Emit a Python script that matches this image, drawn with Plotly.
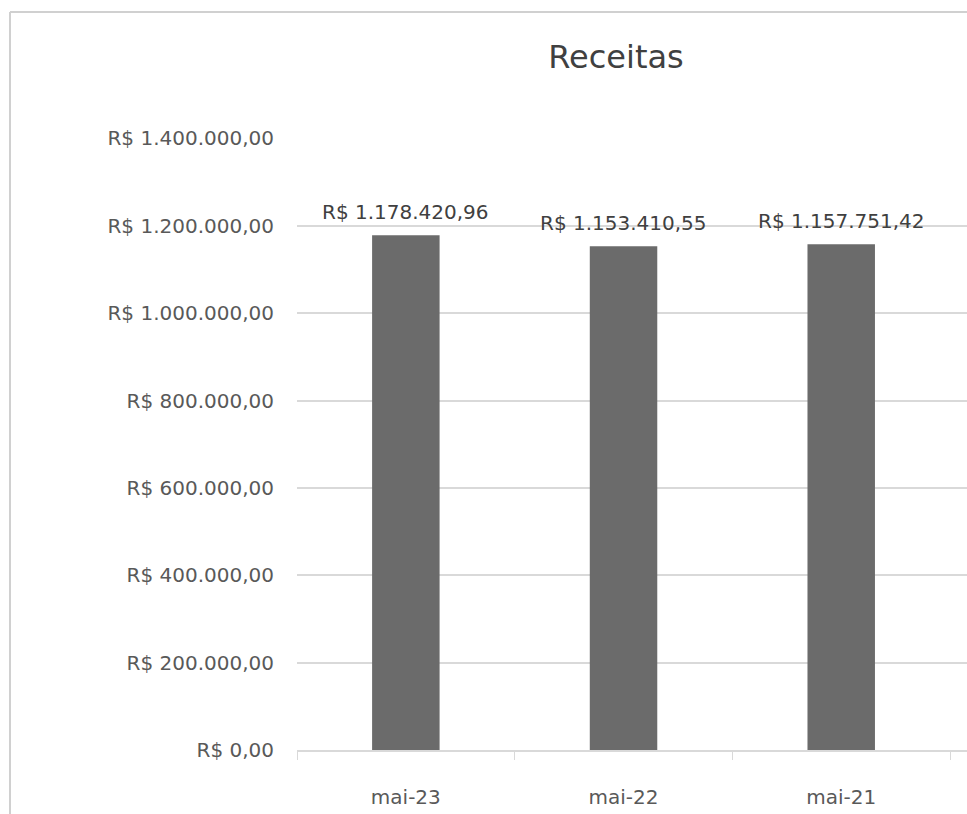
import plotly.graph_objects as go

categories = ["mai-23", "mai-22", "mai-21"]
receitas = [1178420.96, 1153410.55, 1157751.42]
y_ticks = [0, 200000, 400000, 600000, 800000, 1000000, 1200000, 1400000]


def brl(v):
    s = f"{v:,.2f}"
    s = s.replace(",", "X").replace(".", ",").replace("X", ".")
    return "R$ " + s


FONT = "DejaVu Sans"

fig = go.Figure()
fig.add_trace(go.Bar(
    x=categories,
    y=receitas,
    marker=dict(color="#6b6b6b", line=dict(width=0)),
    width=0.31,
    hoverinfo="x+y",
))

# data labels above bars
for c, v in zip(categories, receitas):
    fig.add_annotation(x=c, y=v, xref="x", yref="y", text=brl(v), showarrow=False,
                       yanchor="bottom", yshift=9,
                       font=dict(family=FONT, size=20, color="#404040"))

W, H = 967, 814
L, R, T, B = 297, 0, 138, 64
pw = W - L - R
ph = H - T - B

fig.update_layout(
    width=W, height=H,
    margin=dict(l=L, r=R, t=T, b=B, pad=0),
    paper_bgcolor="white",
    plot_bgcolor="white",
    showlegend=False,
    title=dict(text="Receitas", x=616 / W, xanchor="center", y=1 - 57 / H, yanchor="middle",
               font=dict(family=FONT, size=32, color="#404040")),
    xaxis=dict(
        type="category",
        range=[-0.5, 2.5 + 17 / 218.5],
        showgrid=False,
        showline=True, linecolor="#d9d9d9", linewidth=1.5,
        ticks="outside", tickson="boundaries", ticklen=8, tickcolor="#d9d9d9",
        tickfont=dict(family=FONT, size=20, color="#595959"),
        ticklabelstandoff=28,
    ),
    yaxis=dict(
        range=[0, 1401000],
        tickvals=y_ticks,
        ticktext=[brl(v) for v in y_ticks],
        showgrid=True, gridcolor="#d9d9d9", gridwidth=1.5,
        zeroline=False, showline=False,
        tickfont=dict(family=FONT, size=20, color="#595959"),
        ticklabelstandoff=22,
    ),
    bargap=0.69,
)

# chart frame border (top and left edges visible)
yb = 1 + (T - 12) / ph
xb = (10 - L) / pw
fig.add_shape(type="line", xref="paper", yref="paper",
              x0=xb, x1=1.05, y0=yb, y1=yb,
              line=dict(color="#d0d0d0", width=2))
fig.add_shape(type="line", xref="paper", yref="paper",
              x0=xb, x1=xb, y0=yb, y1=-0.2,
              line=dict(color="#d0d0d0", width=2))

fig.write_html(
    "out.html",
    config={"displayModeBar": False},
    post_script="document.body.style.margin='0px';document.body.style.overflow='hidden';",
)
